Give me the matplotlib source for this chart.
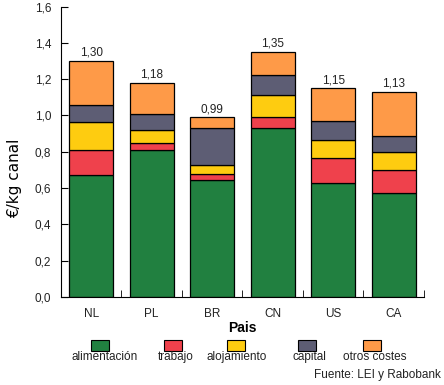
import matplotlib.pyplot as plt
import numpy as np
from matplotlib.patches import Rectangle
from matplotlib.ticker import FixedLocator

plt.rcParams['font.family'] = ['Liberation Sans', 'DejaVu Sans']

paises = ['NL', 'PL', 'BR', 'CN', 'US', 'CA']
alimentacion = [0.67, 0.81, 0.645, 0.93, 0.625, 0.575]
trabajo = [0.14, 0.04, 0.03, 0.06, 0.14, 0.125]
alojamiento = [0.155, 0.07, 0.05, 0.125, 0.10, 0.10]
capital = [0.095, 0.09, 0.205, 0.11, 0.105, 0.085]
otros_costes = [0.24, 0.17, 0.06, 0.125, 0.18, 0.245]
totales = ['1,30', '1,18', '0,99', '1,35', '1,15', '1,13']

series = [alimentacion, trabajo, alojamiento, capital, otros_costes]
nombres = ['alimentación', 'trabajo', 'alojamiento', 'capital', 'otros costes']
colores = ['#218040', '#ef414c', '#fecc10', '#5d5d74', '#fe9a48']

fig = plt.figure(figsize=(4.44, 3.85), dpi=100)
ax = fig.add_axes([0.137, 0.229, 0.818, 0.754])

x = np.arange(len(paises))
base = np.zeros(len(paises))
for vals, col in zip(series, colores):
    ax.bar(x, vals, bottom=base, width=0.73, color=col,
           edgecolor='black', linewidth=0.9)
    base += np.array(vals)

for xi, top, lab in zip(x, base, totales):
    ax.annotate(lab, (xi, top), xytext=(0, 1.5), textcoords='offset points',
                ha='center', va='bottom', fontsize=8.5, color='#222222')

ax.set_xlim(-0.5, len(paises) - 0.5)
ax.set_ylim(0, 1.6)
ax.set_yticks(np.arange(0, 1.61, 0.2))
ax.set_yticklabels([f'{v:.1f}'.replace('.', ',') for v in np.arange(0, 1.61, 0.2)],
                   fontsize=8.5, color='#222222')
ax.set_xticks(x)
ax.set_xticklabels(paises, fontsize=8.5, color='#222222')
ax.xaxis.set_minor_locator(FixedLocator(np.arange(0.5, len(paises), 1)))
ax.tick_params(axis='x', which='major', length=0, pad=8)
ax.tick_params(axis='x', which='minor', direction='in', length=5)
ax.tick_params(axis='y', direction='in', length=5, pad=7)
for s in ['top', 'right']:
    ax.spines[s].set_visible(False)

W, H = 444, 385
ax.set_xlabel('Pais', fontsize=10, fontweight='bold', labelpad=1)
fig.text(15 / W, 1 - 178 / H, '€/kg canal', rotation=90, ha='center',
         va='center', fontsize=11, family='DejaVu Sans')

# leyenda manual: cuadro encima del texto
text_x = [105, 176, 237, 309, 375]
patch_x = [91, 164, 227, 298, 363]
for nom, col, tx, px in zip(nombres, colores, text_x, patch_x):
    fig.patches.append(Rectangle((px / W, 1 - 350.5 / H), 18 / W, 10.5 / H,
                                 transform=fig.transFigure, facecolor=col,
                                 edgecolor='black', linewidth=0.8))
    fig.text(tx / W, 1 - 357 / H, nom, ha='center', va='center', fontsize=8.5,
             color='#222222')

fig.text(441 / W, 1 - 375 / H, 'Fuente: LEI y Rabobank', ha='right',
         va='center', fontsize=8.5, color='#222222')

fig.savefig('out.png', dpi=100)
